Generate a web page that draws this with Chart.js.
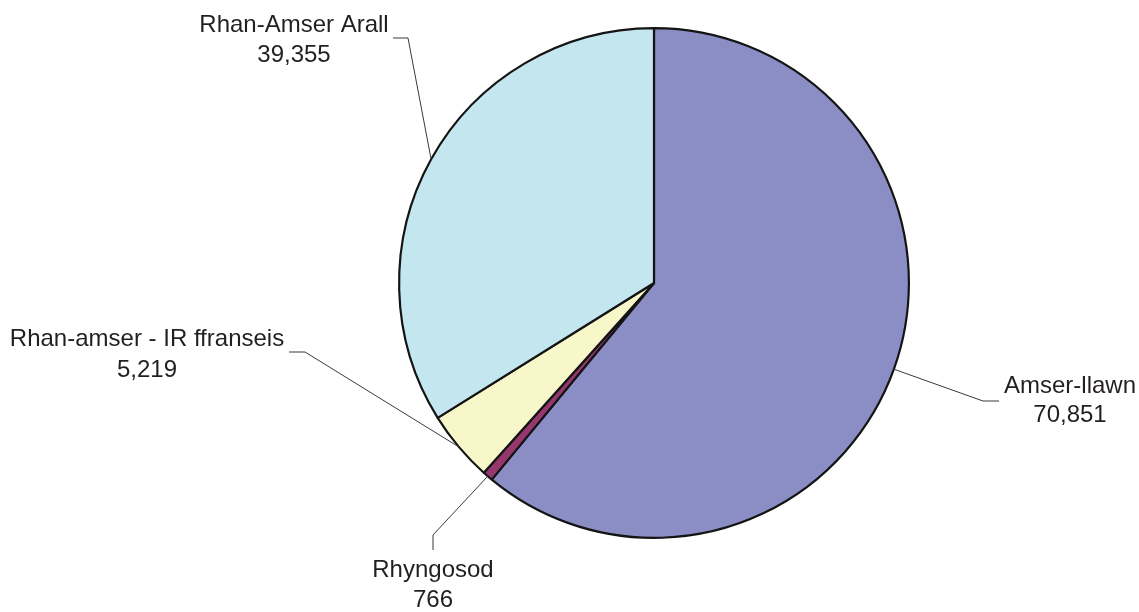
<!DOCTYPE html>
<html>
<head>
<meta charset="utf-8">
<script src="https://cdn.jsdelivr.net/npm/chart.js@4.4.1/dist/chart.umd.min.js"></script>
<style>
  html, body { margin: 0; padding: 0; background: #ffffff; }
  #wrap { width: 1139px; height: 612px; }
</style>
</head>
<body>
<div id="wrap"><canvas id="pieChart" width="1139" height="612"></canvas></div>
<script>
// data
const categories = ["Amser-llawn", "Rhyngosod", "Rhan-amser - IR ffranseis", "Rhan-Amser Arall"];
const values = [70851, 766, 5219, 39355];
const sliceColors = ["#8b8ec5", "#96386e", "#f8f7c9", "#c3e6ef"];

// where each label sits (elbow of leader, end of leader, text centre / baselines)
const labelLayout = [
  { elbow: [983, 401], end: [999, 401], tx: 1070, ty: [393, 422] },
  { elbow: [433, 535], end: [433, 550], tx: 433, ty: [577, 607] },
  { elbow: [305, 352], end: [289, 352], tx: 147, ty: [346, 377] },
  { elbow: [408, 38], end: [393, 38], tx: 294, ty: [32, 62] }
];

const leaderLabels = {
  id: "leaderLabels",
  afterDatasetsDraw(chart) {
    const ctx = chart.ctx;
    const arcs = chart.getDatasetMeta(0).data;
    ctx.save();
    arcs.forEach((arc, i) => {
      const p = arc.getProps(["x", "y", "startAngle", "endAngle", "outerRadius"], true);
      const mid = (p.startAngle + p.endAngle) / 2;
      const sx = p.x + Math.cos(mid) * p.outerRadius;
      const sy = p.y + Math.sin(mid) * p.outerRadius;
      const lay = labelLayout[i];

      ctx.strokeStyle = "#3a3a3a";
      ctx.lineWidth = 1;
      ctx.beginPath();
      ctx.moveTo(sx, sy);
      ctx.lineTo(lay.elbow[0], lay.elbow[1]);
      ctx.lineTo(lay.end[0], lay.end[1]);
      ctx.stroke();

      ctx.fillStyle = "#231f20";
      ctx.font = "24px 'Liberation Sans', Arial, sans-serif";
      ctx.textAlign = "center";
      ctx.textBaseline = "alphabetic";
      ctx.fillText(chart.data.labels[i], lay.tx, lay.ty[0]);
      ctx.fillText(values[i].toLocaleString("en-US"), lay.tx, lay.ty[1]);
    });
    ctx.restore();
  }
};

new Chart(document.getElementById("pieChart"), {
  type: "pie",
  data: {
    labels: categories,
    datasets: [
      {
        data: values,
        backgroundColor: sliceColors,
        borderColor: "#141414",
        borderWidth: 2.2
      }
    ]
  },
  options: {
    responsive: false,
    animation: false,
    layout: {
      padding: { left: 398, right: 229, top: 26, bottom: 72 }
    },
    plugins: {
      legend: { display: false },
      tooltip: { enabled: false }
    }
  },
  plugins: [leaderLabels]
});
</script>
</body>
</html>
